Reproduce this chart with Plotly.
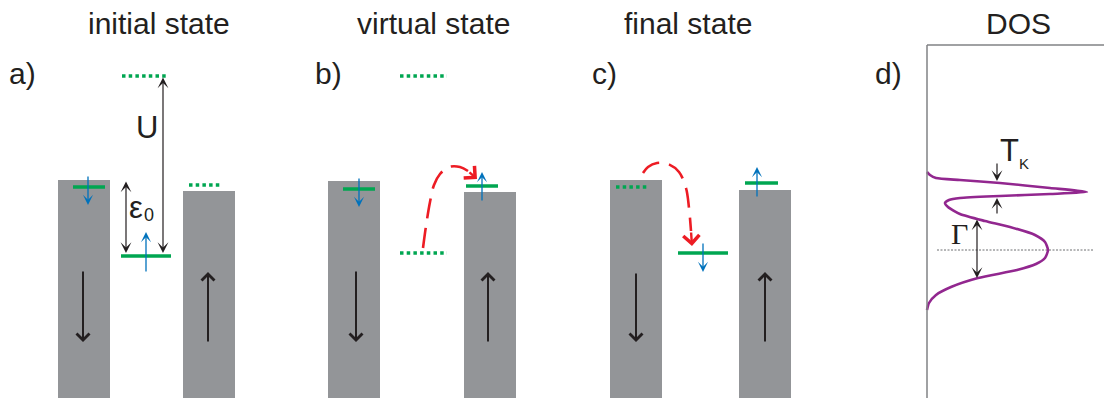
import plotly.graph_objects as go

# ---- canvas coordinates: x to the right, y downward (0 at top edge) ----
W, H = 1104, 398

panel_titles = ["initial state", "virtual state", "final state", "DOS"]
title_x = [159, 433, 688, 1018]
title_y = 23
panel_tags = ["a)", "b)", "c)", "d)"]
tag_x = [22, 328, 604, 888]
tag_y = 73

# lead bands (grey): left edge, right edge, top edge; all run to the floor
band_x0 = [58, 183, 328, 464, 610, 739]
band_x1 = [110, 235, 380, 516, 662, 791]
band_top = [180, 191, 181, 192, 180, 190]
band_floor = 398

# occupied levels (solid green)
occ_x0 = [73, 121, 343, 466, 678, 745]
occ_x1 = [105, 171, 375, 498, 728, 778]
occ_y = [187, 256, 189, 186, 253, 183]

# empty levels (dotted green)
emp_x0 = [122, 189, 400, 400, 616]
emp_x1 = [168, 222, 447, 447, 648]
emp_y = [76, 185, 76, 253, 187]

# lead magnetisation arrows (black): x, tail y, head y
mag_x = [83, 208, 356, 488, 636, 765]
mag_tail = [270, 343, 270, 343, 272, 343]
mag_head = [342, 272, 342, 272, 342, 272]

# electron spins (blue): x, tail y, head y
spin_x = [88, 146, 359, 482, 703, 757]
spin_tail = [175, 273, 177, 202, 242, 198]
spin_head = [205, 232, 207, 172, 272, 167]

# energy scales (thin double arrows): x, y top, y bottom
scale_x = [163, 126, 977]
scale_top = [76, 180, 218]
scale_bot = [253, 253, 278]

# tunnelling hops (red dashed)
hop_b_x = [423, 426, 430, 434, 440, 449, 460, 468]
hop_b_y = [248, 226, 202, 185, 174, 167, 167, 171]
hop_b_head = (477, 179)
hop_c_x = [643, 648, 657, 668, 679, 686, 689, 691]
hop_c_y = [173, 167, 163, 164, 172, 188, 208, 231]
hop_c_head = (692, 246)

# density of states: broad level plus sharp Kondo resonance
dos_x = [927, 930, 936, 960, 1000, 1050, 1087, 1050, 1000, 960, 949, 945,
         948, 960, 985, 1010, 1035, 1045, 1048, 1045, 1036, 1017, 978, 951,
         936, 929, 927]
dos_y = [172, 175, 178, 180, 183, 188, 192, 194, 196, 198, 200, 203,
         207, 214, 221, 227, 235, 242, 250, 258, 264, 270, 278, 287,
         295, 303, 310]
dos_left, dos_top = 927, 45
dos_mid_y = 250
dos_mid_x0, dos_mid_x1 = 937, 1093
tk_x = 997
tk_upper = (162, 181)
tk_lower = (215, 198)

GREY = "#939598"
GREEN = "#00a651"
BLUE = "#0072bc"
RED = "#ed1c24"
PURPLE = "#92278f"
INK = "#231f20"
FRAME = "#808285"
FONT = "Liberation Sans, Arial, sans-serif"
SERIF = "Liberation Serif, Times New Roman, serif"


def segments(x0s, x1s, ys):
    xs, yy = [], []
    for a, b, y in zip(x0s, x1s, ys):
        xs += [a, b, None]
        yy += [y, y, None]
    return xs, yy


fig = go.Figure()

# lead bands
for x0, x1, top in zip(band_x0, band_x1, band_top):
    fig.add_shape(type="rect", xref="x", yref="y", x0=x0, x1=x1, y0=top,
                  y1=band_floor, fillcolor=GREY, line_width=0, layer="below")

# DOS frame
fig.add_shape(type="line", xref="x", yref="y", x0=dos_left, x1=dos_left,
              y0=dos_top, y1=H, line=dict(color=FRAME, width=1.5))
fig.add_shape(type="line", xref="x", yref="y", x0=dos_left, x1=W,
              y0=dos_top, y1=dos_top, line=dict(color=FRAME, width=1.5))

xs, ys = segments(occ_x0, occ_x1, occ_y)
fig.add_trace(go.Scatter(x=xs, y=ys, mode="lines",
                         line=dict(color=GREEN, width=3.5)))
xs, ys = segments(emp_x0, emp_x1, emp_y)
fig.add_trace(go.Scatter(x=xs, y=ys, mode="lines",
                         line=dict(color=GREEN, width=3.5, dash="3.5px,3.2px")))

# DOS centre line and curve
fig.add_trace(go.Scatter(x=[dos_mid_x0, dos_mid_x1], y=[dos_mid_y, dos_mid_y],
                         mode="lines",
                         line=dict(color="#6d6e71", width=1, dash="2px,1.5px")))
fig.add_trace(go.Scatter(x=dos_x, y=dos_y, mode="lines",
                         line=dict(color=PURPLE, width=2.6, shape="spline",
                                   smoothing=0.6)))

# tunnelling paths
for hx, hy in ((hop_b_x, hop_b_y), (hop_c_x, hop_c_y)):
    fig.add_trace(go.Scatter(x=hx, y=hy, mode="lines",
                             line=dict(color=RED, width=2.6, shape="spline",
                                       dash="20px,10px")))

ann = []


def arrow(x, y, ax, ay, color, width, head, size=1.0, side="end"):
    ann.append(dict(x=x, y=y, ax=ax, ay=ay, xref="x", yref="y", axref="x",
                    ayref="y", text="", showarrow=True, arrowcolor=color,
                    arrowwidth=width, arrowhead=head, arrowsize=size,
                    startarrowhead=head, startarrowsize=size, arrowside=side,
                    standoff=0, startstandoff=0))


for x, t, h in zip(mag_x, mag_tail, mag_head):
    arrow(x, h, x, t, INK, 2, 4, 1.25)
for x, t, h in zip(spin_x, spin_tail, spin_head):
    arrow(x, h, x, t, BLUE, 1.3, 3, 1.3)
for x, t, b in zip(scale_x, scale_top, scale_bot):
    arrow(x, b, x, t, INK, 1.2, 3, 1.5, side="end+start")
arrow(tk_x, tk_upper[1], tk_x, tk_upper[0], INK, 1.2, 3, 1.5)
arrow(tk_x, tk_lower[1], tk_x, tk_lower[0], INK, 1.2, 3, 1.5)
arrow(hop_b_head[0], hop_b_head[1], hop_b_x[-1], hop_b_y[-1], RED, 2.4, 4, 1.3)
arrow(hop_c_head[0], hop_c_head[1], hop_c_x[-1], hop_c_y[-1], RED, 2.4, 4, 1.3)


def label(text, x, y, size, family=FONT):
    ann.append(dict(x=x, y=y, xref="x", yref="y", text=text, showarrow=False,
                    xanchor="center", yanchor="middle",
                    font=dict(family=family, size=size, color=INK)))


for t, x in zip(panel_titles, title_x):
    label(t, x, title_y, 30)
for t, x in zip(panel_tags, tag_x):
    label(t, x, tag_y, 30)
label("U", 147, 127, 31)
label("ε", 136, 207, 31)
label("0", 149, 215, 18)
label("T", 1009, 150, 31)
label("K", 1024, 163, 15)
label("Γ", 959, 233, 30, family=SERIF)

fig.update_layout(
    width=W, height=H, margin=dict(l=0, r=0, t=0, b=0),
    paper_bgcolor="white", plot_bgcolor="white", showlegend=False,
    annotations=ann,
    xaxis=dict(range=[0, W], visible=False, fixedrange=True),
    yaxis=dict(range=[H, 0], visible=False, fixedrange=True),
)
fig.update_traces(hoverinfo="skip")
fig.write_html("out.html")
